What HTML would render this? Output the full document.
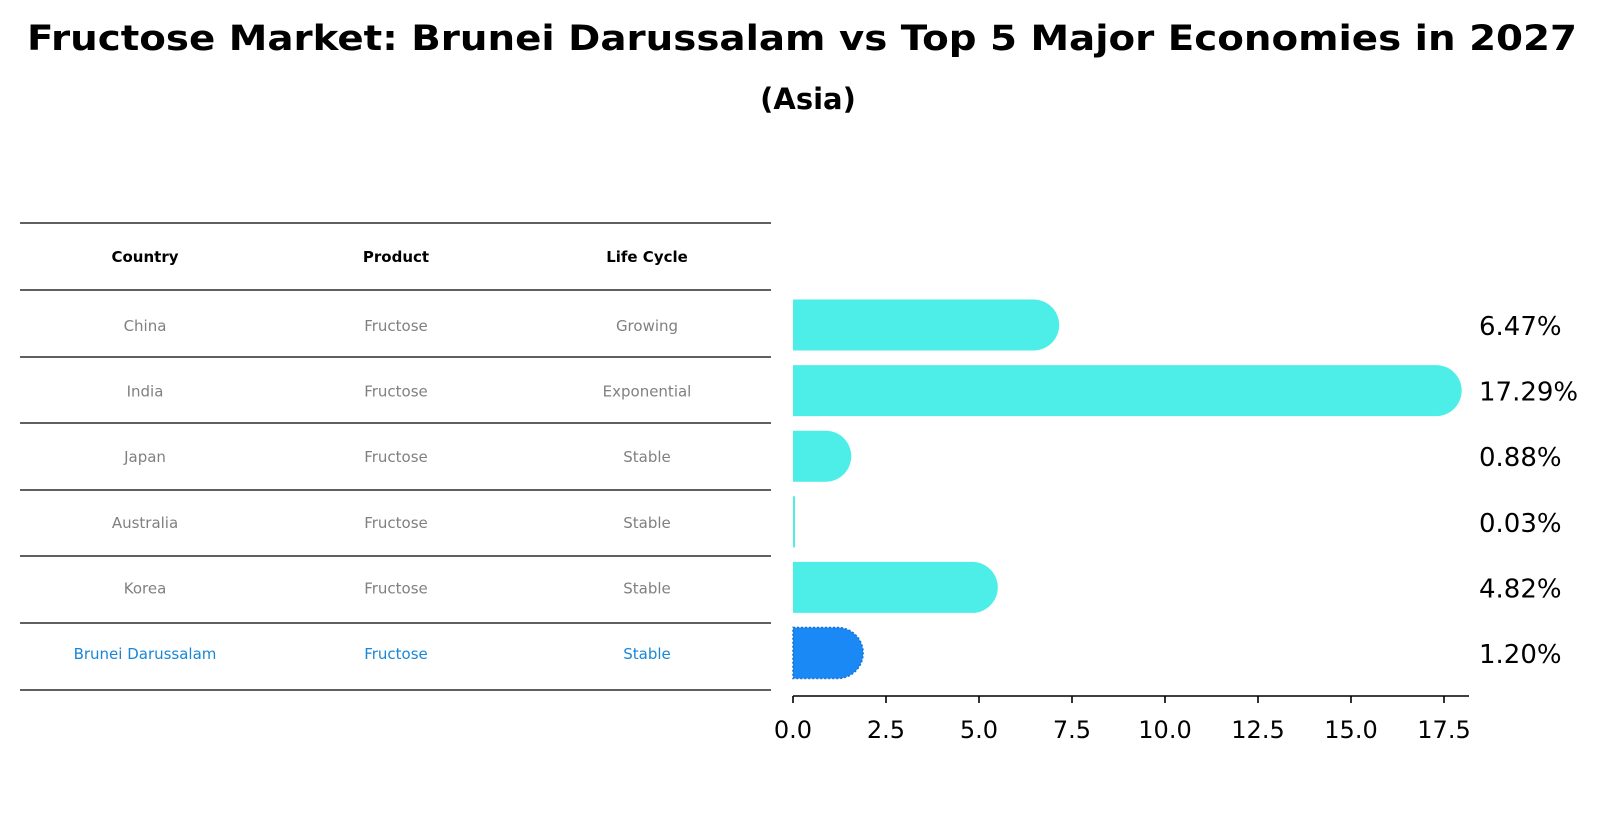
<!DOCTYPE html>
<html><head><meta charset="utf-8"><style>
html,body{margin:0;padding:0;background:#fff;}
svg{display:block;font-family:"DejaVu Sans","Liberation Sans",sans-serif;}
</style></head><body>
<svg id="chart" width="1604" height="823" viewBox="0 0 1604 823">
<text x="802" y="50" text-anchor="middle" font-weight="bold" font-size="35" textLength="1550" lengthAdjust="spacingAndGlyphs">Fructose Market: Brunei Darussalam vs Top 5 Major Economies in 2027</text>
<text x="808" y="109" text-anchor="middle" font-weight="bold" font-size="29">(Asia)</text>
<g id="table"></g>
<g id="bars"></g>
<g id="axis"></g>
</svg>
<script>
const countries = ["China","India","Japan","Australia","Korea","Brunei Darussalam"];
const products = ["Fructose","Fructose","Fructose","Fructose","Fructose","Fructose"];
const lifeCycles = ["Growing","Exponential","Stable","Stable","Stable","Stable"];
const values = [6.47,17.29,0.88,0.03,4.82,1.20];
const valueLabels = ["6.47%","17.29%","0.88%","0.03%","4.82%","1.20%"];
const ticks = [0,2.5,5,7.5,10,12.5,15,17.5];
const tickLabels = ["0.0","2.5","5.0","7.5","10.0","12.5","15.0","17.5"];

const NS="http://www.w3.org/2000/svg";
function mk(tag,attrs,parent){const e=document.createElementNS(NS,tag);for(const k in attrs)e.setAttribute(k,attrs[k]);parent.appendChild(e);return e;}
const x0=793, pxPer=(1444-793)/17.5;
const xs=v=>x0+v*pxPer;
const rowY=i=>325+i*65.6;
const barH=51, r=25.5;

const table=document.getElementById('table');
const lineYs=[223,290];
for(let i=0;i<countries.length;i++) lineYs.push(Math.round(290+(i+1)*66.6));
lineYs.forEach((y,i)=>{
  const l=mk('line',{x1:20,x2:771,y1:y,y2:y,stroke:'#000','stroke-width':1.2},table);
  
  
});
const colX=[145,396,647];
["Country","Product","Life Cycle"].forEach((h,j)=>{
  const t=mk('text',{x:colX[j],y:262,'text-anchor':'middle','font-size':15,'font-weight':'bold'},table);
  t.textContent=h;
  
  
});
for(let i=0;i<countries.length;i++){
  const y=rowY(i)+6;
  const col=i===countries.length-1?'#1a86d6':'#808080';
  [countries[i],products[i],lifeCycles[i]].forEach((s,j)=>{
    const t=mk('text',{x:colX[j],y:y,'text-anchor':'middle','font-size':15,fill:col},table);
    t.textContent=s;
    
    
  });
}

const bars=document.getElementById('bars');
for(let i=0;i<values.length;i++){
  const y=rowY(i), xe=xs(values[i]);
  const brunei=i===values.length-1;
  const fill=brunei?'#1a88f5':'#4deee8';
  let d;
  if(values[i]<0.1){d=`M${x0},${y-barH/2}h${Math.max(2,xe-x0)}v${barH}h${-Math.max(2,xe-x0)}z`;}
  else d=`M${x0},${y-barH/2}H${xe}A${r},${r} 0 0 1 ${xe},${y+barH/2}H${x0}Z`;
  const p=mk('path',{d:d,fill:fill},bars);
  if(brunei){p.setAttribute('stroke','#1a6fd0');p.setAttribute('stroke-dasharray','2,2');p.setAttribute('stroke-width',1.5);}
  
  
  const t=mk('text',{x:1479,y:y+10,'font-size':26},bars);
  t.textContent=valueLabels[i];
  
  
}

const axis=document.getElementById('axis');
const al=mk('line',{x1:x0,x2:1469,y1:696,y2:696,stroke:'#000','stroke-width':1.6},axis);


ticks.forEach((v,i)=>{
  const tl=mk('line',{x1:xs(v),x2:xs(v),y1:696,y2:703,stroke:'#000','stroke-width':1.6},axis);
  
  
  const t=mk('text',{x:xs(v),y:738,'text-anchor':'middle','font-size':24},axis);
  t.textContent=tickLabels[i];
  
  
});
</script>
</body></html>
